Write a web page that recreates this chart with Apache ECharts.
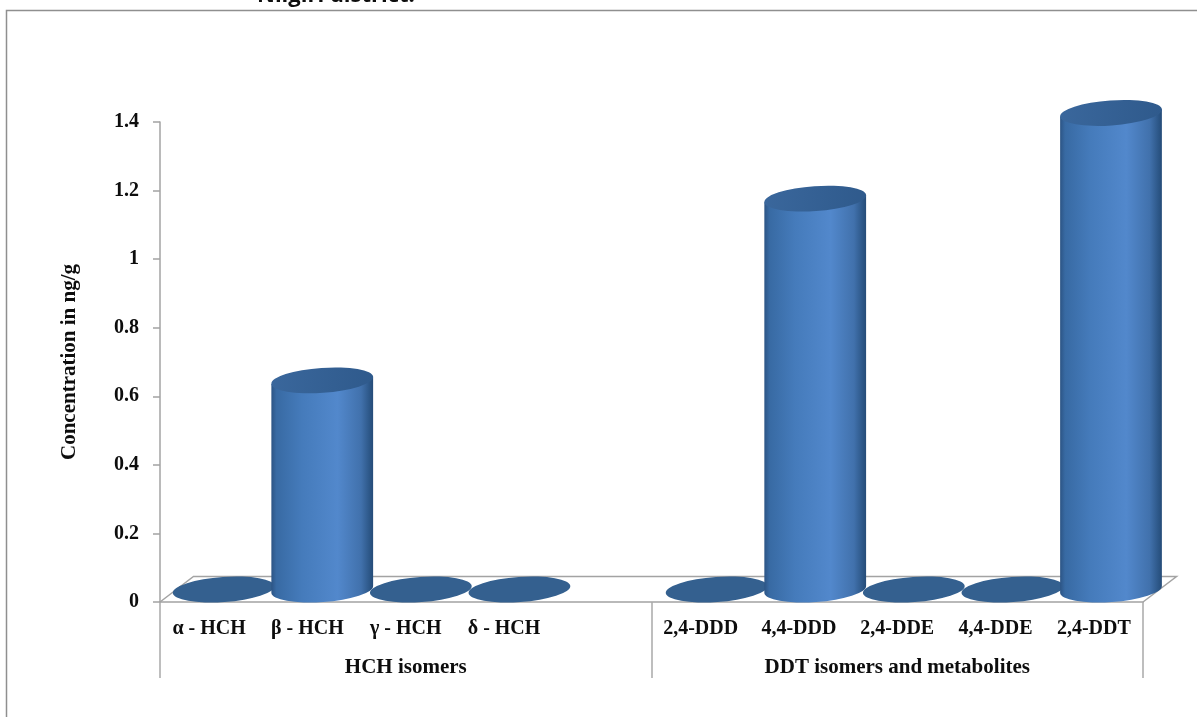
<!DOCTYPE html>
<html>
<head>
<meta charset="utf-8">
<title>Organochlorine residues</title>
<style>html,body{margin:0;padding:0;background:#fff;overflow:hidden}#chart{width:1197px;height:717px}</style>
<script src="https://cdn.jsdelivr.net/npm/echarts@6/dist/echarts.min.js"></script>
</head>
<body>
<div id="chart"></div>
<script>
// Residue concentrations, ng/g
const titleText = 'Nilgiri district.';
const yAxisName = 'Concentration in ng/g';
const compounds = ['\u03b1 - HCH', '\u03b2 - HCH', '\u03b3 - HCH', '\u03b4 - HCH', '', '2,4-DDD', '4,4-DDD', '2,4-DDE', '4,4-DDE', '2,4-DDT'];
const concentrations = [0, 0.61, 0, 0, null, 0, 1.14, 0, 0, 1.39];
const groups = ['HCH isomers', 'DDT isomers and metabolites'];

const FONT = '"Liberation Serif", serif';
const INK = '#0d0d0d';
const TILT_DEG = 4;
const TILT = TILT_DEG * Math.PI / 180;
const RX = 51, RY = 12.5;
const chart = echarts.init(document.getElementById('chart'), null, { renderer: 'canvas' });

// Pseudo-3D projection: a floor point sits up and to the right of its axis position.
function floorPoint(x, y) {
  return [x + 14.5 + (x - 209) * 0.003, y - 12.5];
}

function ellipsePath(cx, cy) {
  const dx = RX * Math.cos(TILT), dy = RX * Math.sin(TILT);
  return `M${cx - dx} ${cy + dy}A${RX} ${RY} ${-TILT_DEG} 1 1 ${cx + dx} ${cy - dy}A${RX} ${RY} ${-TILT_DEG} 1 1 ${cx - dx} ${cy + dy}Z`;
}

function bodyPath(cx, topY, baseY) {
  const dx = RX * Math.cos(TILT), dy = RX * Math.sin(TILT);
  return `M${cx - dx} ${topY + dy}L${cx - dx} ${baseY + dy}A${RX} ${RY} ${-TILT_DEG} 0 0 ${cx + dx} ${baseY - dy}L${cx + dx} ${topY - dy}Z`;
}

const bodyFill = new echarts.graphic.LinearGradient(0, 0, 1, 0, [
  { offset: 0, color: '#2c5484' },
  { offset: 0.05, color: '#386aa3' },
  { offset: 0.3, color: '#457bbb' },
  { offset: 0.65, color: '#5288cc' },
  { offset: 0.88, color: '#4171ac' },
  { offset: 0.97, color: '#2b5585' },
  { offset: 1, color: '#264c78' }
]);
const capFill = new echarts.graphic.LinearGradient(0, 0, 1, 0.3, [
  { offset: 0, color: '#3a679c' },
  { offset: 1, color: '#2f5a8c' }
]);

function renderCylinder(params, api) {
  const v = api.value(1);
  if (v == null || isNaN(v)) return;
  const base = api.coord([api.value(0), 0]);
  const top = api.coord([api.value(0), v]);
  const [cx, baseY] = floorPoint(base[0], base[1]);
  const topY = floorPoint(top[0], top[1])[1];
  const children = [];
  if (v > 0) {
    children.push({ type: 'path', shape: { pathData: bodyPath(cx, topY, baseY) }, style: { fill: bodyFill } });
  }
  children.push({ type: 'path', shape: { pathData: ellipsePath(cx, topY) }, style: { fill: v > 0 ? capFill : '#34608f' } });
  return { type: 'group', children };
}

// Floor parallelogram behind the cylinders
function renderFloor(params) {
  const c = params.coordSys;
  const b = c.y + c.height;
  const depthX = 33.5, depthY = 25.5;
  return {
    type: 'polyline',
    shape: { points: [[c.x, b], [c.x + depthX, b - depthY], [c.x + c.width + depthX, b - depthY], [c.x + c.width, b]] },
    style: { fill: 'none', stroke: '#a3a3a3', lineWidth: 1.5 },
    silent: true
  };
}

chart.setOption({
  animation: false,
  backgroundColor: '#fff',
  title: {
    text: titleText,
    left: 252,
    top: -20,
    textStyle: { fontFamily: '"Open Sans", sans-serif', fontWeight: 'bold', fontSize: 22, color: INK }
  },
  grid: { left: 160, top: 122, width: 983, height: 480, containLabel: false },
  xAxis: [
    {
      type: 'category',
      data: compounds,
      position: 'bottom',
      axisLine: { show: true, lineStyle: { color: '#a3a3a3', width: 1.5 } },
      axisTick: { show: false },
      axisLabel: { interval: 0, margin: 17, fontFamily: FONT, fontWeight: 'bold', fontSize: 20, color: INK, hideOverlap: false }
    },
    {
      type: 'category',
      data: groups,
      position: 'bottom',
      axisLine: { show: false },
      axisTick: { show: true, length: 76, lineStyle: { color: '#a9a9a9', width: 1.5 } },
      axisLabel: { interval: 0, margin: 55, fontFamily: FONT, fontWeight: 'bold', fontSize: 21, color: INK }
    }
  ],
  yAxis: {
    type: 'value',
    min: 0,
    max: 1.4,
    interval: 0.2,
    name: yAxisName,
    nameLocation: 'middle',
    nameGap: 80,
    nameTextStyle: { fontFamily: FONT, fontWeight: 'bold', fontSize: 21, color: INK },
    axisLine: { show: true, lineStyle: { color: '#a3a3a3', width: 1.5 } },
    axisTick: { show: true, length: 7, lineStyle: { color: '#a3a3a3', width: 1.5 } },
    axisLabel: { margin: 21, fontFamily: FONT, fontWeight: 'bold', fontSize: 20, color: INK },
    splitLine: { show: false }
  },
  graphic: [{
    type: 'polyline',
    silent: true,
    shape: { points: [[6.5, 717], [6.5, 10.5], [1197, 10.5]] },
    style: { fill: 'none', stroke: '#8f8f8f', lineWidth: 1.5 }
  }],
  series: [
    { type: 'custom', coordinateSystem: 'cartesian2d', renderItem: renderFloor, data: [[0, 0]], silent: true, z: 1, clip: false },
    {
      type: 'custom',
      coordinateSystem: 'cartesian2d',
      renderItem: renderCylinder,
      data: compounds.map((name, i) => [i, concentrations[i]]),
      encode: { x: 0, y: 1 },
      z: 2,
      clip: false
    }
  ]
});
</script>
</body>
</html>
